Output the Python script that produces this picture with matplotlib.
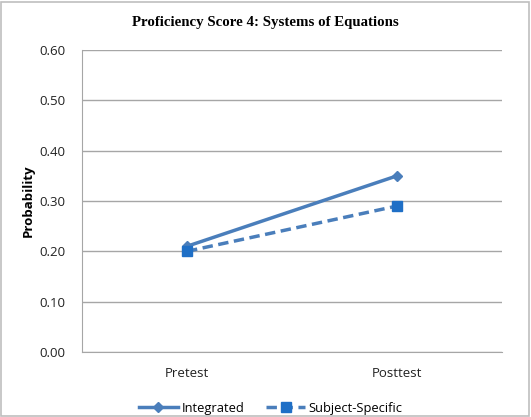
import matplotlib
matplotlib.use("Agg")
import matplotlib.pyplot as plt
from matplotlib.patches import Rectangle

categories = ["Pretest", "Posttest"]
integrated = [0.21, 0.35]
subject_specific = [0.20, 0.29]
yticks = [0.0, 0.1, 0.2, 0.3, 0.4, 0.5, 0.6]

fig = plt.figure(figsize=(5.31, 4.17), dpi=100)
ax = fig.add_axes([0.1544, 0.156, 0.791, 0.724])
x = list(range(len(categories)))
line_c = "#4A7EBB"
ax.plot(x, integrated, color=line_c, lw=2.5, marker="D", ms=5.5,
        mfc="#4A7EBB", mec="#4A7EBB", label="Integrated")
ax.plot(x, subject_specific, color=line_c, lw=2.5, ls=(0, (3, 1.6)), marker="s", ms=7.5,
        mfc="#1F6FC6", mec="#1F6FC6", label="Subject-Specific")
ax.set_xlim(-0.5, 1.5)
ax.set_ylim(0, 0.6)
ax.set_yticks(yticks)
ax.set_yticklabels([f"{v:.2f}" for v in yticks], fontsize=9.5, family="Open Sans")
ax.set_xticks(x)
ax.set_xticklabels(categories, fontsize=9.5, family="Open Sans")
ax.yaxis.grid(True, color="#A6A6A6", lw=1)
ax.set_axisbelow(True)
for s in ["top", "right"]:
    ax.spines[s].set_visible(False)
ax.spines["left"].set_color("#A6A6A6")
ax.spines["bottom"].set_color("#A6A6A6")
ax.tick_params(axis="both", length=0, colors="#222222")
ax.tick_params(axis="y", pad=12)
ax.tick_params(axis="x", pad=11)
ax.set_ylabel("Probability", fontsize=9.5, fontweight="bold", family="Open Sans", labelpad=3)
fig.suptitle("Proficiency Score 4: Systems of Equations", x=0.5, y=0.962,
             fontsize=10.7, fontweight="bold", family="Liberation Serif")
fig.legend(loc="lower center", bbox_to_anchor=(0.51, -0.022), ncol=2, frameon=False,
           prop={"family": "Open Sans", "size": 9.3}, handlelength=3.0,
           handletextpad=0.3, columnspacing=1.7)
fig.patches.append(Rectangle((0.002, 0.002), 0.994, 0.994, transform=fig.transFigure,
                             fill=False, ec="#BFBFBF", lw=1.2))
fig.savefig("out.png", dpi=100)
